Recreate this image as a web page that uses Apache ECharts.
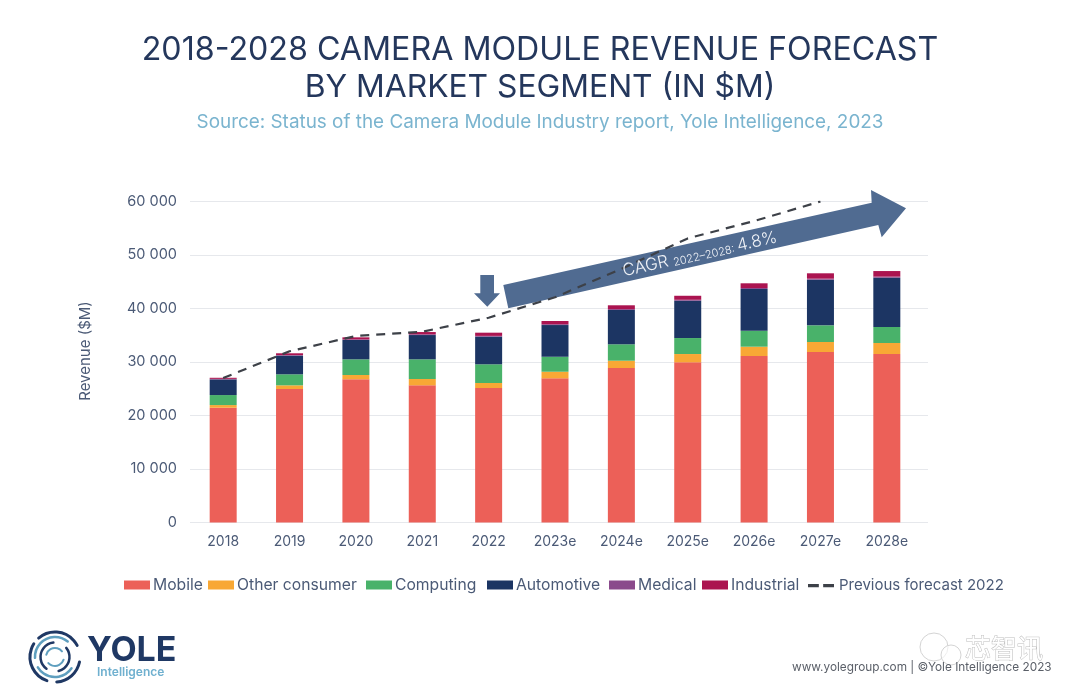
<!DOCTYPE html>
<html lang="en">
<head>
<meta charset="UTF-8">
<title>Camera module revenue forecast</title>
<script src="https://cdn.jsdelivr.net/npm/echarts@6/dist/echarts.min.js"></script>
<style>
  html, body { margin: 0; padding: 0; background: #fff; }
  #chart { width: 1080px; height: 698px; }
</style>
</head>
<body>
<div id="chart"></div>
<script>
const years = ['2018', '2019', '2020', '2021', '2022', '2023e', '2024e', '2025e', '2026e', '2027e', '2028e'];
const mobile = [21450, 24950, 26770, 25640, 25140, 26950, 28880, 29940, 31120, 31870, 31500];
const otherConsumer = [500, 690, 800, 1180, 930, 1230, 1360, 1550, 1740, 1870, 2050];
const computing = [1870, 2060, 2930, 3680, 3500, 2800, 3070, 2990, 2990, 3120, 2990];
const automotive = [2930, 3480, 3610, 4540, 5160, 5930, 6410, 6970, 7790, 8520, 9210];
const medical = [100, 120, 130, 140, 150, 150, 170, 180, 190, 200, 210];
const industrial = [200, 330, 370, 420, 600, 600, 710, 750, 880, 1000, 1040];
const previousForecast = [27000, 32000, 34860, 35660, 38280, 42100, 47400, 53100, 56350, 60000, null];

const font = 'Inter, "Noto Sans", sans-serif';
const navy = '#24375c';
const textGrey = '#4b5a76';
const barNames = ['Mobile', 'Other consumer', 'Computing', 'Automotive', 'Medical', 'Industrial'];
const lineName = 'Previous forecast 2022';
// swatch x of each legend entry, one legend per entry so the gaps can follow the picture
const legendX = [124, 208, 366, 487, 609, 702];

function barSeries(name, data, color) {
    return { name: name, type: 'bar', stack: 'total', barWidth: 27, data: data, itemStyle: { color: color } };
}

// logo rings are drawn as arcs around one centre
function ring(r, width, color, start, end) {
    return {
        type: 'arc', z: 5,
        shape: { cx: 55, cy: 657, r: r, startAngle: start, endAngle: end },
        style: { stroke: color, lineWidth: width, fill: null, lineCap: 'round' }
    };
}

// wechat bubbles of the watermark
function bubble(cx, cy, r) {
    return {
        type: 'circle', z: 6,
        shape: { cx: cx, cy: cy, r: r },
        style: { fill: 'rgba(255,255,255,0.6)', stroke: '#d4d4d4', lineWidth: 1 }
    };
}

const legends = barNames.map(function (n, i) {
    return {
        left: legendX[i] - 5, top: 572, itemWidth: 26, itemHeight: 9,
        data: [{ name: n, icon: 'rect' }],
        textStyle: { color: textGrey, fontSize: 15.7, fontFamily: font, padding: [0, 0, 0, -2] }
    };
});
legends.push({
    left: 803, top: 573, itemWidth: 26, itemHeight: 9,
    data: [{ name: lineName, icon: 'path://M0 0H10V3H0ZM14 0H24V3H14Z', itemStyle: { color: '#3d4148' } }],
    textStyle: { color: textGrey, fontSize: 15, fontFamily: font }
});

const chart = echarts.init(document.getElementById('chart'));
chart.setOption({
    animation: false,
    backgroundColor: '#fff',
    textStyle: { fontFamily: font },
    title: [
        { text: '2018-2028 CAMERA MODULE REVENUE FORECAST', left: 'center', top: 29, textStyle: { color: navy, fontSize: 32.2, fontWeight: 400, fontFamily: font } },
        { text: 'BY MARKET SEGMENT (IN $M)', left: 'center', top: 66, textStyle: { color: navy, fontSize: 31.8, fontWeight: 400, fontFamily: font } },
        { text: 'Source: Status of the Camera Module Industry report, Yole Intelligence, 2023', left: 'center', top: 108, textStyle: { color: '#7ab4cf', fontSize: 18.9, fontWeight: 400, fontFamily: font } }
    ],
    legend: legends,
    grid: [
        { left: 190, right: 160, top: 201.5, height: 321 },
        { left: 190, right: 152, top: 201.5, height: 321 }
    ],
    xAxis: [
        {
            type: 'category', gridIndex: 0, data: years,
            axisLine: { show: false }, axisTick: { show: false },
            axisLabel: { color: textGrey, fontSize: 14, margin: 12 }
        },
        { type: 'value', gridIndex: 1, min: 0, max: 1, show: false }
    ],
    yAxis: [
        {
            type: 'value', gridIndex: 0, min: 0, max: 60000, interval: 10000,
            name: 'Revenue ($M)', nameLocation: 'middle', nameGap: 97,
            nameTextStyle: { color: textGrey, fontSize: 15, padding: [0, 0, 0, 22] },
            axisLine: { show: false }, axisTick: { show: false }, splitLine: { show: false },
            axisLabel: {
                color: textGrey, fontSize: 14.5, margin: 13,
                formatter: function (v) { return v === 0 ? '0' : (v / 1000) + ' 000'; }
            }
        },
        {
            type: 'value', gridIndex: 1, min: 0, max: 60000, interval: 10000,
            axisLine: { show: false }, axisTick: { show: false }, axisLabel: { show: false },
            splitLine: { lineStyle: { color: '#e6e8ec', width: 1 } }
        }
    ],
    series: [
        barSeries(barNames[0], mobile, '#ec6058'),
        barSeries(barNames[1], otherConsumer, '#f8a835'),
        barSeries(barNames[2], computing, '#49b26a'),
        barSeries(barNames[3], automotive, '#1c3563'),
        barSeries(barNames[4], medical, '#8a4a8c'),
        barSeries(barNames[5], industrial, '#ab1450'),
        {
            name: lineName, type: 'line', data: previousForecast,
            symbol: 'none', z: 5,
            lineStyle: { color: '#3d4148', width: 2.2, type: [9, 7] },
            itemStyle: { color: '#3d4148' }
        }
    ],
    graphic: [
        // CAGR arrow
        {
            type: 'polygon', z: 1,
            shape: { points: [[503.3, 285], [871.7, 202.7], [871, 190], [906, 208.3], [881.7, 237.3], [878.3, 225], [508.3, 308.3]] },
            style: { fill: '#506b91' }
        },
        // 2022 marker arrow
        {
            type: 'polygon', z: 1,
            shape: { points: [[480.3, 275], [494, 275], [494, 293.3], [500, 293.3], [487.3, 306.7], [474, 293.3], [480.3, 293.3]] },
            style: { fill: '#506b91' }
        },
        {
            type: 'text', z: 6, x: 621, y: 263, rotation: 12.5 * Math.PI / 180,
            style: {
                rich: {
                    a: { fontSize: 17, fontWeight: 300, fill: '#eef1f6', fontFamily: font },
                    b: { fontSize: 11, fontWeight: 300, fill: '#eef1f6', fontFamily: font, padding: [5, 0, 0, 0] }
                },
                text: '{a|CAGR }{b|2022\u20132028: }{a|4.8%}'
            }
        },
        // logo
        ring(25, 3, '#1f3864', 0.2, 1.5),
        ring(25, 3, '#1f3864', 1.9, 3.7),
        ring(25, 3, '#1f3864', 4.0, 5.8),
        ring(20, 2.5, '#5f9fbf', 0.6, 2.6),
        ring(20, 2.5, '#5f9fbf', 3.1, 5.4),
        ring(14.5, 2.5, '#1f3864', 5.6, 7.6),
        ring(14.5, 2.5, '#1f3864', 2.2, 4.6),
        ring(9, 2, '#5f9fbf', 0.3, 2.4),
        ring(9, 2, '#5f9fbf', 3.4, 5.6),
        {
            type: 'text', z: 5, x: 87, y: 634,
            style: { text: 'YOLE', fill: '#1f3864', fontSize: 34, fontWeight: 700, fontFamily: font }
        },
        {
            type: 'text', z: 5, x: 97, y: 666,
            style: { text: 'Intelligence', fill: '#6fb0cf', fontSize: 12, fontWeight: 600, fontFamily: font }
        },
        // watermark and footer
        bubble(934, 647, 14),
        bubble(951, 655, 10),
        {
            type: 'text', z: 6, x: 965, y: 635,
            style: { text: '芯智讯', fill: '#ffffff', stroke: '#bdbdbd', lineWidth: 1, fontSize: 26, fontFamily: '"Noto Sans CJK SC"' }
        },
        {
            type: 'text', z: 7, x: 792, y: 661,
            style: { text: 'www.yolegroup.com | \u00a9Yole Intelligence 2023', fill: '#5a5f68', fontSize: 11.8, fontFamily: font }
        }
    ]
});
</script>
</body>
</html>
